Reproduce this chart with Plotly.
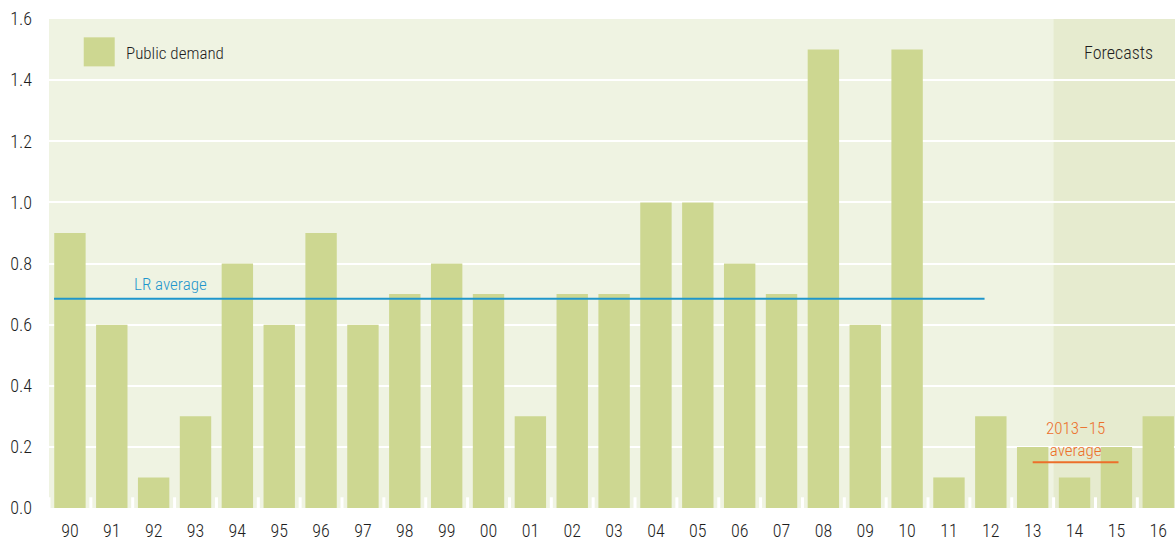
import plotly.graph_objects as go

years = ["90", "91", "92", "93", "94", "95", "96", "97", "98", "99", "00", "01", "02",
         "03", "04", "05", "06", "07", "08", "09", "10", "11", "12", "13", "14", "15", "16"]
public_demand = [0.9, 0.6, 0.1, 0.3, 0.8, 0.6, 0.9, 0.6, 0.7, 0.8, 0.7, 0.3, 0.7,
                 0.7, 1.0, 1.0, 0.8, 0.7, 1.5, 0.6, 1.5, 0.1, 0.3, 0.2, 0.1, 0.2, 0.3]
lr_average = 0.685
lr_span = ["90", "12"]
avg_1315 = 0.15
avg_span = ["13", "15"]
forecast_start = "14"
y_ticks = [0.0, 0.2, 0.4, 0.6, 0.8, 1.0, 1.2, 1.4, 1.6]

FONT = "Liberation Sans Narrow, Roboto Condensed, Arial Narrow, Liberation Sans, sans-serif"
BAR = "#CDD791"
BG = "#EFF3E2"
FC = "#E6EBCF"
BLUE = "#1F96CC"
ORANGE = "#EC6F2A"
TXT = "#1E1E1E"

idx = list(range(len(years)))
fig = go.Figure()
fig.add_trace(go.Bar(x=idx, y=public_demand, marker=dict(color=BAR, line=dict(width=0)),
                     width=0.75, name="Public demand", showlegend=False))

n = len(years)
fs = years.index(forecast_start) - 0.5
fig.add_shape(type="rect", xref="x", yref="paper", x0=fs, x1=n, y0=0, y1=1,
              fillcolor=FC, line=dict(width=0), layer="below")

# white separators at the bottom between categories
for i in range(n + 1):
    fig.add_shape(type="line", xref="x", yref="y", x0=i - 0.5, x1=i - 0.5, y0=-0.005, y1=0.035,
                  line=dict(color="white", width=3), layer="above")

a, b = years.index(lr_span[0]), years.index(lr_span[1])
fig.add_shape(type="line", xref="x", yref="y", x0=a - 0.38, x1=b - 0.15, y0=lr_average, y1=lr_average,
              line=dict(color=BLUE, width=2))
fig.add_annotation(x=a + 2.4, y=lr_average, xref="x", yref="y", text="LR average", showarrow=False,
                   yshift=15, font=dict(family=FONT, size=17, color=BLUE, weight=300))

c, d = years.index(avg_span[0]), years.index(avg_span[1])
fig.add_shape(type="line", xref="x", yref="y", x0=c, x1=d + 0.05, y0=avg_1315, y1=avg_1315,
              line=dict(color=ORANGE, width=2))
fig.add_annotation(x=(c + d) / 2 + 0.02, y=avg_1315, xref="x", yref="y", text="2013–15<br>average",
                   showarrow=False, yshift=23, font=dict(family=FONT, size=17, color=ORANGE, weight=300))

fig.add_annotation(x=(fs + n - 0.6) / 2 + 0.1, y=1.49, xref="x", yref="y", text="Forecasts",
                   showarrow=False, font=dict(family=FONT, size=18, color=TXT, weight=300))

# legend
fig.add_shape(type="rect", xref="x", yref="y", x0=0.33, x1=1.07, y0=1.445, y1=1.54,
              fillcolor=BAR, line=dict(width=0))
fig.add_annotation(x=1.3, y=1.49, xref="x", yref="y", text="Public demand", xanchor="left",
                   showarrow=False, font=dict(family=FONT, size=17, color=TXT, weight=300))

fig.update_layout(
    width=1175, height=542,
    margin=dict(l=49, r=0, t=19, b=34),
    paper_bgcolor="white", plot_bgcolor=BG,
    bargap=0.25,
    font=dict(family=FONT, size=16, color=TXT, weight=300),
    xaxis=dict(range=[-0.5, n - 0.6], tickmode="array", tickvals=idx, ticktext=years,
               showgrid=False, zeroline=False, showline=False, ticks="", ticklabelstandoff=10,
               tickfont=dict(family=FONT, size=18, color=TXT, weight=300)),
    yaxis=dict(range=[0, 1.6], tickmode="array", tickvals=y_ticks,
               ticktext=[f"{v:.1f}" for v in y_ticks], showgrid=True, gridcolor="white",
               gridwidth=2, zeroline=False, showline=False, ticks="", ticklabelstandoff=16,
               tickfont=dict(family=FONT, size=18, color=TXT, weight=300)),
)

fig.write_html("out.html", config={"displayModeBar": False},
               post_script="document.body.style.margin='0';document.body.style.overflow='hidden';")
